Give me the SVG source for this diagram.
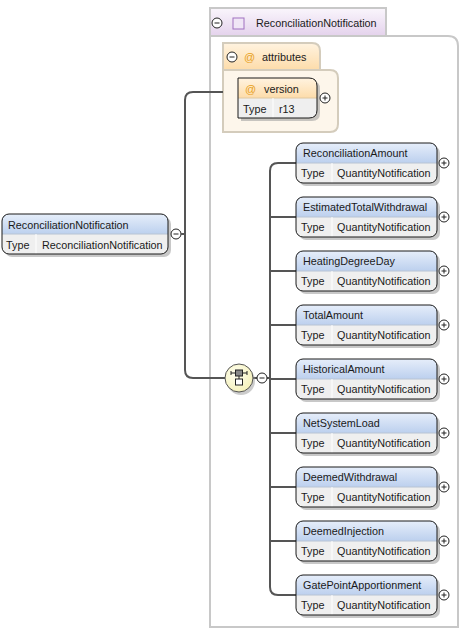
<svg xmlns="http://www.w3.org/2000/svg" width="461" height="630" viewBox="0 0 461 630">
<defs>
<linearGradient id="gElem" x1="0" y1="0" x2="0" y2="1"><stop offset="0" stop-color="#e6eefa"/><stop offset="1" stop-color="#bcd0ee"/></linearGradient>
<linearGradient id="gAttr" x1="0" y1="0" x2="0" y2="1"><stop offset="0" stop-color="#fff3e0"/><stop offset="1" stop-color="#fddcaa"/></linearGradient>
<linearGradient id="gCT" x1="0" y1="0" x2="0" y2="1"><stop offset="0" stop-color="#faf6fc"/><stop offset="1" stop-color="#e4d2ec"/></linearGradient>
<radialGradient id="gSeq" cx="0.4" cy="0.35" r="0.7"><stop offset="0" stop-color="#fffff0"/><stop offset="1" stop-color="#f4f0b8"/></radialGradient>
<g id="plus"><circle r="5" fill="#fff" stroke="#222" stroke-width="1"/><path d="M-2.5 0H2.5M0 -2.5V2.5" stroke="#222" stroke-width="1"/></g>
<g id="minus"><circle r="5" fill="#fff" stroke="#222" stroke-width="1"/><path d="M-2.5 0H2.5" stroke="#222" stroke-width="1"/></g>
<g id="child">
<rect x="3" y="3" width="141" height="40" rx="7" fill="#9a9a9a" opacity="0.55"/>
<rect x="0" y="0" width="141" height="40" rx="7" fill="#efefef"/>
<path d="M0 20V7Q0 0 7 0H134Q141 0 141 7V20Z" fill="url(#gElem)"/>
<line x1="0" y1="20" x2="141" y2="20" stroke="#b8c4d4" stroke-width="1"/>
<line x1="36" y1="20" x2="36" y2="40" stroke="#ffffff" stroke-width="1"/>
<rect x="0" y="0" width="141" height="40" rx="7" fill="none" stroke="#1a1a1a" stroke-width="1"/>
<use href="#plus" x="148" y="20"/>
</g>
</defs>
<style>
text{font-family:"Liberation Sans",Arial,sans-serif;font-size:10.8px;fill:#1a1a1a}
.conn{fill:none;stroke:#555;stroke-width:2}
</style>

<g id="complexType">
<path d="M210 36H448Q458 36 458 46V627H210Z" fill="#fff" stroke="#c8c8c8" stroke-width="2"/>
<rect x="210" y="8" width="176" height="28" fill="url(#gCT)" stroke="#c8c8c8" stroke-width="2"/>
<use href="#minus" x="217" y="23"/>
<rect x="233" y="18" width="11" height="11" fill="#f0e6f6" stroke="#a070c0" stroke-width="1"/>
<text x="256" y="27">ReconciliationNotification</text>
</g>

<g id="attributes">
<path d="M223 70H330Q338 70 338 78V124Q338 132 330 132H223Z" fill="#fdf6eb" stroke="#d4ccbc" stroke-width="2"/>
<path d="M223 70V43H312Q320 43 320 51V70Z" fill="url(#gAttr)" stroke="#d4ccbc" stroke-width="2"/>
<use href="#minus" x="232" y="57"/>
<text x="244" y="61" style="fill:#e8a020;font-size:11px">@</text>
<text x="262" y="61">attributes</text>
</g>

<g id="version">
<path d="M241 81H312Q320 81 320 89V113Q320 121 312 121H241Z" fill="#9a9a9a" opacity="0.55"/>
<path d="M238 78H309Q317 78 317 86V110Q317 118 309 118H238Z" fill="#efefef"/>
<path d="M238 98V78H309Q317 78 317 86V98Z" fill="url(#gAttr)"/>
<line x1="238" y1="98" x2="317" y2="98" stroke="#e0c8a0" stroke-width="1"/>
<line x1="273" y1="98" x2="273" y2="118" stroke="#fff" stroke-width="1"/>
<path d="M238 78H309Q317 78 317 86V110Q317 118 309 118H238Z" fill="none" stroke="#1a1a1a" stroke-width="1"/>
<text x="245" y="93" style="fill:#e8a020;font-size:11px">@</text>
<text x="264" y="93">version</text>
<text x="243" y="113">Type</text>
<text x="279" y="113">r13</text>
<use href="#plus" x="325" y="98"/>
</g>

<g id="root">
<rect x="5" y="217" width="166" height="40" rx="7" fill="#9a9a9a" opacity="0.55"/>
<rect x="2" y="214" width="166" height="40" rx="7" fill="#efefef"/>
<path d="M2 234V221Q2 214 9 214H161Q168 214 168 221V234Z" fill="url(#gElem)"/>
<line x1="2" y1="234" x2="168" y2="234" stroke="#b8c4d4" stroke-width="1"/>
<line x1="36" y1="234" x2="36" y2="254" stroke="#fff" stroke-width="1"/>
<rect x="2" y="214" width="166" height="40" rx="7" fill="none" stroke="#1a1a1a" stroke-width="1"/>
<text x="8" y="229">ReconciliationNotification</text>
<text x="6" y="249">Type</text>
<text x="42" y="249">ReconciliationNotification</text>
<use href="#minus" x="176" y="234"/>
</g>

<g id="connectors">
<path class="conn" d="M181 234H185"/>
<path class="conn" d="M223 92H193Q185 92 185 100V370Q185 378 193 378H225"/>
<path class="conn" d="M253 378H257M267 378H270"/>
<path class="conn" d="M296 163H278Q270 163 270 171V587Q270 595 278 595H296"/>
<path class="conn" d="M270 217H296M270 271H296M270 325H296M270 379H296M270 433H296M270 487H296M270 541H296"/>
</g>

<g id="sequence">
<circle cx="241" cy="381" r="14" fill="#9a9a9a" opacity="0.5"/>
<circle cx="239" cy="378" r="14" fill="url(#gSeq)" stroke="#555" stroke-width="1"/>
<path d="M231 373H247M231 371V375M247 371V375M239 376V379" stroke="#222" stroke-width="1" fill="none"/>
<rect x="235.5" y="370" width="7" height="6" fill="#888" stroke="#222" stroke-width="1"/>
<rect x="235.5" y="379" width="7" height="6" fill="#fff" stroke="#222" stroke-width="1"/>
<use href="#minus" x="262" y="378"/>
</g>

<g id="c1" transform="translate(296,143)"><use href="#child"/><text x="7" y="14">ReconciliationAmount</text><text x="5" y="34">Type</text><text x="41" y="34">QuantityNotification</text></g>
<g id="c2" transform="translate(296,197)"><use href="#child"/><text x="7" y="14">EstimatedTotalWithdrawal</text><text x="5" y="34">Type</text><text x="41" y="34">QuantityNotification</text></g>
<g id="c3" transform="translate(296,251)"><use href="#child"/><text x="7" y="14">HeatingDegreeDay</text><text x="5" y="34">Type</text><text x="41" y="34">QuantityNotification</text></g>
<g id="c4" transform="translate(296,305)"><use href="#child"/><text x="7" y="14">TotalAmount</text><text x="5" y="34">Type</text><text x="41" y="34">QuantityNotification</text></g>
<g id="c5" transform="translate(296,359)"><use href="#child"/><text x="7" y="14">HistoricalAmount</text><text x="5" y="34">Type</text><text x="41" y="34">QuantityNotification</text></g>
<g id="c6" transform="translate(296,413)"><use href="#child"/><text x="7" y="14">NetSystemLoad</text><text x="5" y="34">Type</text><text x="41" y="34">QuantityNotification</text></g>
<g id="c7" transform="translate(296,467)"><use href="#child"/><text x="7" y="14">DeemedWithdrawal</text><text x="5" y="34">Type</text><text x="41" y="34">QuantityNotification</text></g>
<g id="c8" transform="translate(296,521)"><use href="#child"/><text x="7" y="14">DeemedInjection</text><text x="5" y="34">Type</text><text x="41" y="34">QuantityNotification</text></g>
<g id="c9" transform="translate(296,575)"><use href="#child"/><text x="7" y="14">GatePointApportionment</text><text x="5" y="34">Type</text><text x="41" y="34">QuantityNotification</text></g>
</svg>
